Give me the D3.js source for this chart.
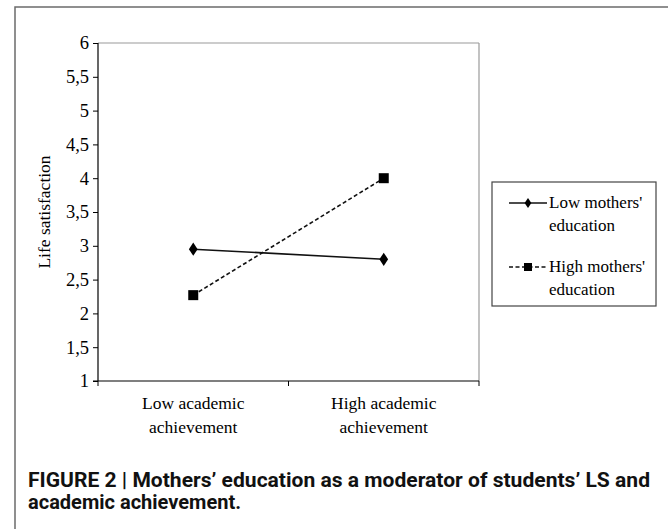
<!DOCTYPE html>
<html><head><meta charset="utf-8">
<script src="https://cdn.jsdelivr.net/npm/d3@7"></script>
<style>html,body{margin:0;padding:0;background:#fff;}</style>
</head><body>
<script>
const categories = ["Low academic achievement", "High academic achievement"];
const categoryLines = [["Low academic", "achievement"], ["High academic", "achievement"]];
const seriesNames = ["Low mothers' education", "High mothers' education"];
const lowMothers = [2.95, 2.8];
const highMothers = [2.27, 4.0];
const yTicks = [1, 1.5, 2, 2.5, 3, 3.5, 4, 4.5, 5, 5.5, 6];
const yTickLabels = ["1", "1,5", "2", "2,5", "3", "3,5", "4", "4,5", "5", "5,5", "6"];

const W = 668, H = 529;
const svg = d3.select("body").append("svg").attr("width", W).attr("height", H);
const serif = "'Liberation Serif','Times New Roman',serif";

// outer frame
svg.append("rect").attr("x", 15).attr("y", 7).attr("width", 700).attr("height", 600)
  .attr("fill", "none").attr("stroke", "#6b6b6b").attr("stroke-width", 1.5);

const L = 98, R = 479, T = 43, B = 381;
const x = d3.scaleBand().domain(categories).range([L, R]);
const y = d3.scaleLinear().domain([1, 6]).range([B, T]);

// plot frame top/right
svg.append("line").attr("x1", L).attr("x2", R).attr("y1", T).attr("y2", T).attr("stroke", "#9a9a9a").attr("stroke-width", 1.2);
svg.append("line").attr("x1", R).attr("x2", R).attr("y1", T).attr("y2", B).attr("stroke", "#9a9a9a").attr("stroke-width", 1.2);

// y axis
const yAxis = d3.axisLeft(y).tickValues(yTicks).tickFormat((d, i) => yTickLabels[i]).tickSize(5).tickPadding(4);
const gy = svg.append("g").attr("transform", `translate(${L},0)`).call(yAxis)
  .attr("font-family", serif).attr("font-size", 18.5);
gy.select(".domain").attr("stroke", "#000").attr("stroke-width", 1.2).attr("d", `M0,${T}V${B}`);
gy.selectAll(".tick line").attr("stroke", "#000");
gy.selectAll(".tick text").attr("fill", "#000");

// x axis
const gx = svg.append("g").attr("transform", `translate(0,${B})`);
gx.append("line").attr("x1", L - 5).attr("x2", R).attr("y1", 0).attr("y2", 0).attr("stroke", "#000").attr("stroke-width", 1.2);
const bounds = [L, x(categories[1]), R];
gx.selectAll("line.tk").data(bounds).enter().append("line").attr("class", "tk")
  .attr("x1", d => d).attr("x2", d => d).attr("y1", 0).attr("y2", 5).attr("stroke", "#000");
categories.forEach((c, i) => {
  const cx = x(c) + x.bandwidth() / 2;
  const t = gx.append("text").attr("text-anchor", "middle").attr("font-family", serif)
    .attr("font-size", 17.5).attr("fill", "#000");
  categoryLines[i].forEach((ln, j) => {
    t.append("tspan").attr("x", cx).attr("y", 28 + j * 24).text(ln);
  });
});

// y label
svg.append("text").attr("transform", `translate(50,${(T + B) / 2}) rotate(-90)`)
  .attr("text-anchor", "middle").attr("font-family", serif).attr("font-size", 17.5).text("Life satisfaction");

const cxOf = c => x(c) + x.bandwidth() / 2;
const line = d3.line().x((d, i) => cxOf(categories[i])).y(d => y(d));

svg.append("path").datum(lowMothers).attr("d", line).attr("fill", "none").attr("stroke", "#111").attr("stroke-width", 1.6);
svg.append("path").datum(highMothers).attr("d", line).attr("fill", "none").attr("stroke", "#111").attr("stroke-width", 1.6).attr("stroke-dasharray", "4,2.5");

const diamond = d3.symbol().type(d3.symbolDiamond).size(50);
svg.selectAll("path.dm").data(lowMothers).enter().append("path").attr("class", "dm")
  .attr("d", diamond).attr("transform", (d, i) => `translate(${cxOf(categories[i])},${y(d)}) scale(1.15,1)`).attr("fill", "#000");
svg.selectAll("rect.sq").data(highMothers).enter().append("rect").attr("class", "sq")
  .attr("x", (d, i) => cxOf(categories[i]) - 5).attr("y", d => y(d) - 5).attr("width", 10).attr("height", 10).attr("fill", "#000");

// legend
svg.append("rect").attr("x", 492).attr("y", 182).attr("width", 164).attr("height", 124)
  .attr("fill", "none").attr("stroke", "#444").attr("stroke-width", 1.2);
const legDiamond = d3.symbol().type(d3.symbolDiamond).size(30);
const legY = [203, 267];
seriesNames.forEach((s, i) => {
  const ly = legY[i];
  svg.append("line").attr("x1", 509).attr("x2", 547).attr("y1", ly).attr("y2", ly)
    .attr("stroke", "#111").attr("stroke-width", 1.4).attr("stroke-dasharray", i === 1 ? "4,2.5" : null);
  if (i === 0) {
    svg.append("path").attr("d", legDiamond).attr("transform", `translate(528,${ly}) scale(1.15,1)`).attr("fill", "#000");
  } else {
    svg.append("rect").attr("x", 524).attr("y", ly - 4).attr("width", 8).attr("height", 8).attr("fill", "#000");
  }
  const parts = i === 0 ? ["Low mothers'", "education"] : ["High mothers'", "education"];
  const t = svg.append("text").attr("font-family", serif).attr("font-size", 17).attr("fill", "#000");
  parts.forEach((p, j) => t.append("tspan").attr("x", 549).attr("y", ly + 5 + j * 23).text(p));
});

// caption
const capFont = "'Liberation Sans Narrow',Roboto,'Liberation Sans',sans-serif";
svg.append("text").attr("font-family", capFont).attr("font-weight", "bold").attr("font-size", 20).attr("fill", "#111")
  .attr("x", 28).attr("y", 487).attr("textLength", 622).attr("lengthAdjust", "spacingAndGlyphs")
  .text("FIGURE 2 | Mothers’ education as a moderator of students’ LS and");
svg.append("text").attr("font-family", capFont).attr("font-weight", "bold").attr("font-size", 20).attr("fill", "#111")
  .attr("x", 28).attr("y", 509).attr("textLength", 213).attr("lengthAdjust", "spacingAndGlyphs")
  .text("academic achievement.");
</script>
</body></html>
